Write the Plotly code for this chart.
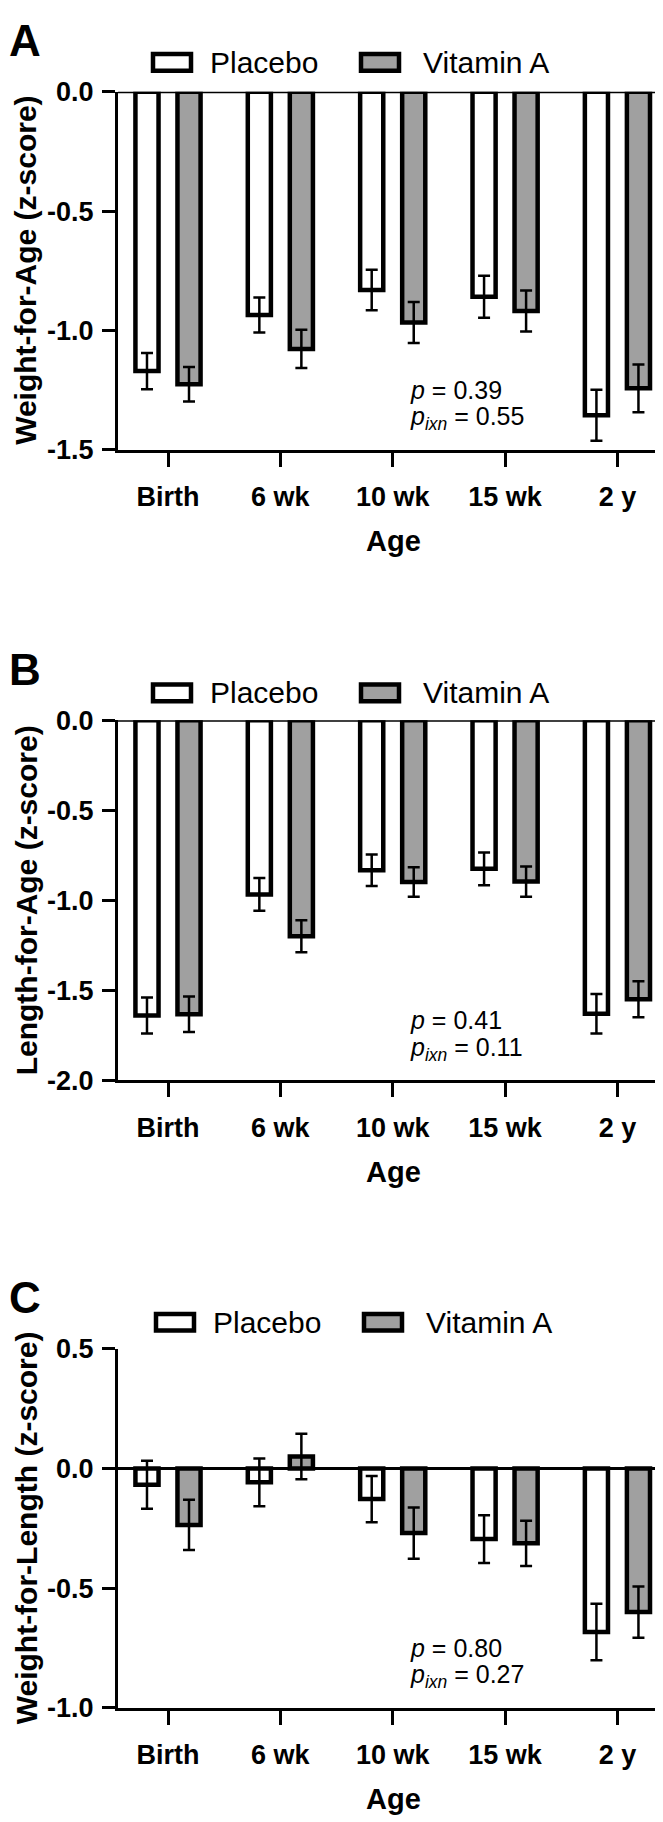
import plotly.graph_objects as go

# ---------------- data ----------------
categories = ["Birth", "6 wk", "10 wk", "15 wk", "2 y"]

waz_placebo = [-1.17, -0.935, -0.83, -0.858, -1.355]
waz_placebo_err = [0.076, 0.073, 0.085, 0.088, 0.107]
waz_vita = [-1.225, -1.077, -0.966, -0.918, -1.242]
waz_vita_err = [0.072, 0.080, 0.086, 0.086, 0.100]

laz_placebo = [-1.64, -0.967, -0.833, -0.825, -1.63]
laz_placebo_err = [0.100, 0.091, 0.087, 0.091, 0.110]
laz_vita = [-1.633, -1.200, -0.898, -0.896, -1.55]
laz_vita_err = [0.098, 0.089, 0.082, 0.084, 0.100]

wlz_placebo = [-0.068, -0.058, -0.128, -0.295, -0.683]
wlz_placebo_err = [0.100, 0.100, 0.097, 0.100, 0.118]
wlz_vita = [-0.236, 0.050, -0.270, -0.313, -0.600]
wlz_vita_err = [0.105, 0.095, 0.107, 0.095, 0.107]

panel_letters = ["A", "B", "C"]
y_titles = ["Weight-for-Age (z-score)", "Length-for-Age (z-score)", "Weight-for-Length (z-score)"]
y_tickvals = [[0.0, -0.5, -1.0, -1.5], [0.0, -0.5, -1.0, -1.5, -2.0], [0.5, 0.0, -0.5, -1.0]]
y_ticktext = [["0.0", "-0.5", "-1.0", "-1.5"], ["0.0", "-0.5", "-1.0", "-1.5", "-2.0"],
              ["0.5", "0.0", "-0.5", "-1.0"]]
y_ranges = [[-1.5, 0.0], [-2.0, 0.0], [-1.0, 0.5]]
p_values = ["0.39", "0.41", "0.80"]
p_ixn_values = ["0.55", "0.11", "0.27"]
series_names = ["Placebo", "Vitamin A"]
x_title = "Age"

# ---------------- layout geometry (pixels) ----------------
W, H = 663, 1822
FONT = "Liberation Sans, Arial, sans-serif"
plot_left, plot_right = 110, 660
panel_tops = [70, 709, 1348]
panel_bottoms = [434, 1075, 1713]
legend_centers = [40, 681, 1321]
fill_colors = ["#ffffff", "#a0a0a0"]


def px(x):
    return x / W


def py(y):
    return 1 - y / H


panels = [
    (waz_placebo, waz_placebo_err, waz_vita, waz_vita_err),
    (laz_placebo, laz_placebo_err, laz_vita, laz_vita_err),
    (wlz_placebo, wlz_placebo_err, wlz_vita, wlz_vita_err),
]

fig = go.Figure()
shapes = []
annotations = []
layout_axes = {}

for i, (pv, pe, vv, ve) in enumerate(panels):
    n = "" if i == 0 else str(i + 1)
    xa, ya = "x" + n, "y" + n
    for name, vals, errs, col in [(series_names[0], pv, pe, fill_colors[0]),
                                  (series_names[1], vv, ve, fill_colors[1])]:
        fig.add_trace(go.Bar(
            x=categories, y=vals, name=name, xaxis=xa, yaxis=ya,
            marker=dict(color=col, line=dict(color="black", width=4.5)),
            error_y=dict(type="data", array=errs, visible=True, color="black",
                         thickness=2.5, width=6),
            showlegend=False,
        ))
    top, bot = panel_tops[i], panel_bottoms[i]
    layout_axes["xaxis" + n] = dict(
        domain=[px(plot_left), px(plot_right)], anchor=ya,
        type="category", categoryorder="array", categoryarray=categories,
        range=[-0.445, 4.45], showline=True, linewidth=3, linecolor="black",
        ticks="outside", ticklen=14, tickwidth=3, tickcolor="black",
        tickfont=dict(family=FONT, size=27, color="black", weight="bold"),
        showgrid=False, zeroline=False, fixedrange=True, ticklabelstandoff=7,
    )
    layout_axes["yaxis" + n] = dict(
        domain=[py(bot), py(top)], anchor=xa, range=y_ranges[i],
        tickmode="array", tickvals=y_tickvals[i], ticktext=y_ticktext[i],
        showline=True, linewidth=3, linecolor="black",
        ticks="outside", ticklen=13, tickwidth=3, tickcolor="black",
        tickfont=dict(family=FONT, size=27, color="black", weight="bold"),
        showgrid=False, zeroline=False, fixedrange=True, ticklabelstandoff=3,
    )
    # baseline at y = 0
    shapes.append(dict(type="line", xref=xa + " domain", yref=ya, x0=0, x1=1, y0=0, y1=0,
                       line=dict(color="black", width=3)))
    # legend
    dx = 3 if i == 2 else 0
    leg_y = legend_centers[i]
    for (bx0, bx1, tx), name, col in zip([(145, 183, 200), (353, 391, 413)], series_names, fill_colors):
        shapes.append(dict(type="rect", xref="paper", yref="paper",
                           x0=px(bx0 + dx), x1=px(bx1 + dx), y0=py(leg_y + 8.5), y1=py(leg_y - 8.5),
                           fillcolor=col, line=dict(color="black", width=4.5)))
        annotations.append(dict(xref="paper", yref="paper", x=px(tx + dx), y=py(leg_y),
                                xanchor="left", yanchor="middle", showarrow=False, text=name,
                                font=dict(family=FONT, size=30, color="black")))
    # panel letter
    annotations.append(dict(xref="paper", yref="paper", x=px(-1), y=py(top - 52),
                            xanchor="left", yanchor="middle", showarrow=False,
                            text=panel_letters[i],
                            font=dict(family=FONT, size=44, color="black", weight="bold")))
    # y title
    annotations.append(dict(xref="paper", yref="paper", x=px(18), y=py((top + bot) / 2),
                            xanchor="center", yanchor="middle", showarrow=False, textangle=-90,
                            text=y_titles[i],
                            font=dict(family=FONT, size=30, color="black", weight="bold")))
    # x title
    annotations.append(dict(xref="paper", yref="paper", x=px((plot_left + plot_right) / 2),
                            y=py(bot + 93), xanchor="center", yanchor="middle", showarrow=False,
                            text=x_title,
                            font=dict(family=FONT, size=29, color="black", weight="bold")))
    # p-value text
    annotations.append(dict(xref="paper", yref="paper", x=px(400), y=py(bot - 61),
                            xanchor="left", yanchor="middle", showarrow=False,
                            text="<i>p</i> = " + p_values[i],
                            font=dict(family=FONT, size=25, color="black")))
    annotations.append(dict(xref="paper", yref="paper", x=px(400), y=py(bot - 32),
                            xanchor="left", yanchor="middle", showarrow=False,
                            text="<i>p</i><sub><i>ixn</i></sub> = " + p_ixn_values[i],
                            font=dict(family=FONT, size=25, color="black")))

fig.update_layout(
    width=W, height=H, autosize=False,
    margin=dict(l=0, r=0, t=0, b=0),
    paper_bgcolor="white", plot_bgcolor="white",
    barmode="group", bargap=0.252, bargroupgap=0.45,
    shapes=shapes, annotations=annotations,
    font=dict(family=FONT, color="black"),
    **layout_axes,
)

fig.write_html("out.html")
